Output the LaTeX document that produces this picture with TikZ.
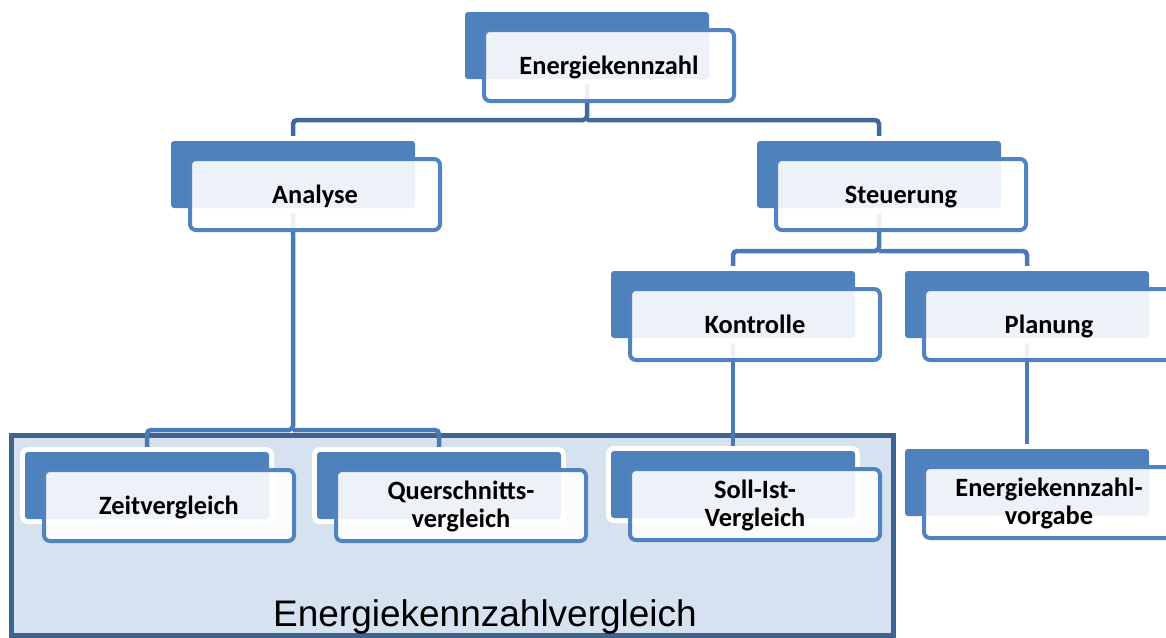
\documentclass[tikz,border=0pt]{standalone}
\usepackage{fontspec}
\newfontfamily\boxfont{Carlito}
\newfontfamily\labelfont{Liberation Sans}
\definecolor{backblue}{HTML}{4F81BD}
\definecolor{frontline}{HTML}{5083C0}
\definecolor{linkmid}{HTML}{4A7AB5}
\definecolor{linkdark}{HTML}{41689C}
\definecolor{groupfill}{HTML}{D6E2F0}
\definecolor{groupline}{HTML}{3E6390}
\pgfdeclarelayer{groupbg}
\pgfdeclarelayer{links}
\pgfsetlayers{groupbg,links,main}
\tikzset{
  backbox/.style={fill=backblue, rounded corners=3pt, inner sep=0pt, outer sep=0pt,
    minimum width=244pt, minimum height=67pt,
    preaction={draw=white, line width=10pt}},
  frontbox/.style={draw=frontline, line width=4pt, fill=white, fill opacity=0.9,
    rounded corners=6pt, inner sep=0pt, outer sep=0pt,
    minimum width=250pt, minimum height=71pt},
  boxtext/.style={font=\boxfont\bfseries\fontsize{26.4}{28}\selectfont,
    align=center, inner sep=0pt, text=black},
  oneline/.style={anchor=base, yshift=-8.5pt},
  twoline/.style={yshift=-1pt},
  link/.style={draw=linkmid, line width=4.5pt, rounded corners=4pt},
  toplink/.style={link, draw=linkdark},
  groupbox/.style={draw=groupline, fill=groupfill, line width=5pt,
    inner sep=0pt, outer sep=0pt, minimum width=882pt, minimum height=200pt},
  grouplabel/.style={font=\labelfont\fontsize{37}{44}\selectfont, inner sep=0pt}
}
% #1 name, #2/#3 top-left of the back card, #4 text, #5 text placement style
\newcommand\orgnode[5]{%
  \node[backbox, anchor=north west] (#1-back) at (#2,#3) {};
  \node[frontbox, anchor=north west] (#1-front) at ({#2+19},{#3+18}) {};
  \node[boxtext, #5] (#1-text) at (#1-front.center) {#4};
}
\begin{document}
\begin{tikzpicture}[x=1pt, y=-1pt]
  \useasboundingbox (0,0) rectangle (1166,637);

  % group frame
  \begin{pgfonlayer}{groupbg}
    \node[groupbox, anchor=north west] (grp) at (11,435) {};
  \end{pgfonlayer}
  \node[grouplabel, anchor=base] (grp-label) at (485,626) {Energiekennzahlvergleich};

  % cards
  \orgnode{ek}{465}{12}{Energiekennzahl}{oneline}
  \orgnode{an}{171}{141}{Analyse}{oneline}
  \orgnode{st}{757}{141}{Steuerung}{oneline}
  \orgnode{ko}{611}{271}{Kontrolle}{oneline}
  \orgnode{pl}{905}{271}{Planung}{oneline}
  \orgnode{zv}{25}{452}{Zeitvergleich}{oneline}
  \orgnode{qv}{317}{452}{Querschnitts-\\vergleich}{twoline}
  \orgnode{si}{611}{451}{Soll-Ist-\\Vergleich}{twoline}
  \orgnode{vg}{905}{449}{Energiekennzahl-\\vorgabe}{twoline}

  % junction heights
  \coordinate (j-top) at (0,120);
  \coordinate (j-st) at (0,251);
  \coordinate (j-an) at (0,430);

  % connectors
  \begin{pgfonlayer}{links}
    \draw[toplink] (ek-back.center) -- (ek-back.center |- j-top) -| (an-back.north);
    \draw[toplink] (ek-back.center |- j-top) -| (st-back.north);
    \draw[link] (st-back.center) -- (st-back.center |- j-st) -| (ko-back.north);
    \draw[link] (st-back.center |- j-st) -| (pl-back.north);
    \draw[link] (an-back.center) -- (an-back.center |- j-an) -| (zv-back.north);
    \draw[link] (an-back.center |- j-an) -| (qv-back.north);
    \draw[link] (ko-back.center) -- (si-back.north);
    \draw[link] (pl-back.center) -- (vg-back.north);
  \end{pgfonlayer}
\end{tikzpicture}
\end{document}
